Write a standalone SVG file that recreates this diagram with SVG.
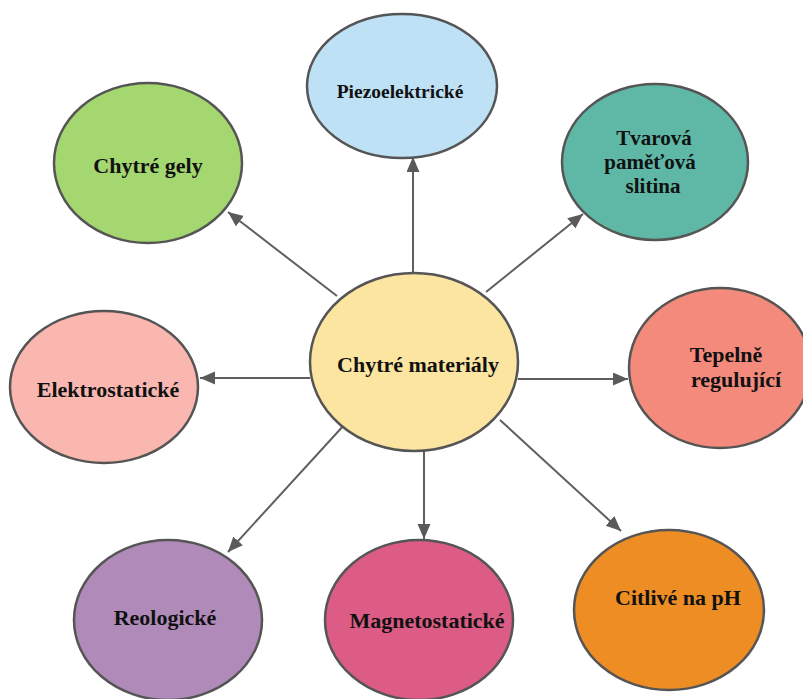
<svg xmlns="http://www.w3.org/2000/svg" width="803" height="699" viewBox="0 0 803 699">
<style>
.n{stroke:#555;stroke-width:2.5}
.t{font-family:"Liberation Serif","Times New Roman",serif;font-weight:bold;font-size:22px;fill:#111;text-anchor:middle}
.c{stroke:#5f5f5f;stroke-width:2;fill:none;marker-end:url(#ah)}
</style>
<defs>
<marker id="ah" markerUnits="userSpaceOnUse" markerWidth="16" markerHeight="14" refX="15" refY="6.5" orient="auto">
<path d="M0,0 L15,6.5 L0,13 z" fill="#5a5a5a"/>
</marker>
</defs>
<rect width="803" height="699" fill="#fff"/>
<g id="connectors">
<line class="c" x1="337" y1="296" x2="228" y2="212"/>
<line class="c" x1="413" y1="274" x2="413" y2="157"/>
<line class="c" x1="486" y1="292" x2="583" y2="214"/>
<line class="c" x1="518" y1="379" x2="628" y2="379"/>
<line class="c" x1="310" y1="378" x2="200" y2="378"/>
<line class="c" x1="345" y1="424" x2="228" y2="552"/>
<line class="c" x1="424" y1="450" x2="424" y2="539"/>
<line class="c" x1="500" y1="420" x2="621" y2="531"/>
</g>
<g id="center">
<ellipse class="n" cx="414" cy="362" rx="104" ry="89" fill="#FBE5A1"/>
<text class="t" x="418" y="372">Chytré materiály</text>
</g>
<g id="piezo">
<ellipse class="n" cx="402" cy="86" rx="95" ry="72" fill="#BFE1F6"/>
<text class="t" x="400" y="98" style="font-size:19.5px">Piezoelektrické</text>
</g>
<g id="gely">
<ellipse class="n" cx="148" cy="163" rx="94" ry="80" fill="#A4D770"/>
<text class="t" x="148" y="173">Chytré gely</text>
</g>
<g id="tvarova">
<ellipse class="n" cx="655" cy="162" rx="93" ry="78" fill="#5FB8A6"/>
<text class="t" x="654" y="145" style="font-size:21px">Tvarová</text>
<text class="t" x="650" y="169" style="font-size:21px">paměťová</text>
<text class="t" x="653" y="193" style="font-size:21px">slitina</text>
</g>
<g id="tepelne">
<ellipse class="n" cx="720" cy="368" rx="91" ry="80" fill="#F48A7C"/>
<text class="t" x="726" y="362">Tepelně</text>
<text class="t" x="736" y="387">regulující</text>
</g>
<g id="elektro">
<ellipse class="n" cx="104" cy="387" rx="94" ry="76" fill="#F9B7B0"/>
<text class="t" x="108" y="397">Elektrostatické</text>
</g>
<g id="reolog">
<ellipse class="n" cx="168" cy="620" rx="94" ry="80" fill="#B08BBA"/>
<text class="t" x="165" y="625">Reologické</text>
</g>
<g id="magnet">
<ellipse class="n" cx="419" cy="620" rx="94" ry="80" fill="#DC5C85"/>
<text class="t" x="427" y="628">Magnetostatické</text>
</g>
<g id="citlive">
<ellipse class="n" cx="669" cy="610" rx="95" ry="80" fill="#EE8D24"/>
<text class="t" x="678" y="605">Citlivé na pH</text>
</g>
</svg>
